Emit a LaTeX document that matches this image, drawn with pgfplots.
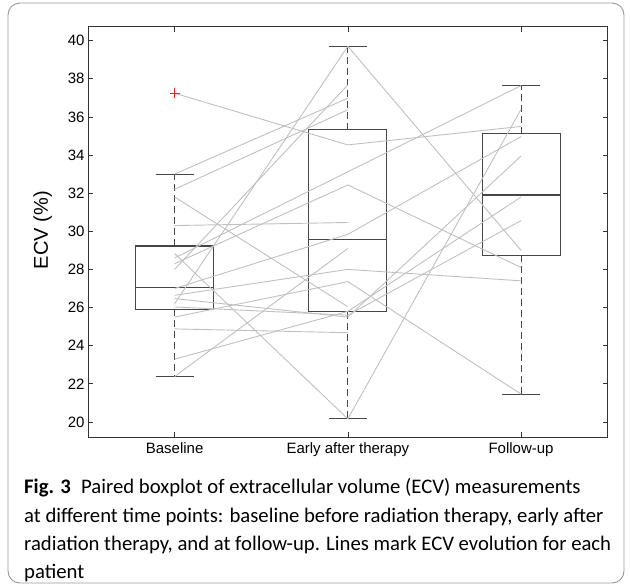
\documentclass[border=0pt]{standalone}
\usepackage{fontspec}
\setmainfont{Liberation Sans}
\newfontfamily\capfont{Carlito}
\usepackage{pgfplots}
\pgfplotsset{compat=1.18}
\definecolor{boxc}{RGB}{70,70,70}
\definecolor{linec}{RGB}{192,192,192}
\begin{document}
\begin{tikzpicture}[x=1pt,y=1pt]
\useasboundingbox (0,0) rectangle (630,584);
\draw[black!40, line width=0.9pt, rounded corners=12pt] (8,1) rectangle (624,581);
\begin{axis}[
  at={(88pt,147pt)}, anchor=south west,
  scale only axis, width=519.7pt, height=410.3pt,
  xmin=0.5, xmax=3.5, ymin=19.21, ymax=40.73,
  xtick={1,2,3}, xticklabels={Baseline, Early after therapy, Follow-up},
  ytick={20,22,...,40},
  tick align=inside, major tick length=5pt,
  tick style={black!80, line width=0.7pt},
  axis line style={black!80, line width=0.9pt},
  ticklabel style={font=\fontsize{15}{17}\selectfont},
  xticklabel style={yshift=-2pt},
  /pgf/number format/assume math mode=true,
  ylabel={ECV (\%)},
  ylabel style={font=\fontsize{20}{22}\selectfont, at={(axis description cs:-0.087,0.504)}, anchor=center},
  clip=false,
]
% ---- boxes (lower whisker, q1, median, q3, upper whisker)
% Baseline
\addplot[boxc, line width=1.1pt] coordinates {(0.775,25.91)(1.225,25.91)(1.225,29.23)(0.775,29.23)} -- cycle;
\addplot[boxc, line width=1.1pt] coordinates {(0.775,27.05)(1.225,27.05)};
\addplot[boxc, line width=1.1pt, dash pattern=on 7pt off 4pt] coordinates {(1,29.23)(1,33.0)};
\addplot[boxc, line width=1.1pt, dash pattern=on 7pt off 4pt] coordinates {(1,25.91)(1,22.36)};
\addplot[boxc, line width=1.1pt] coordinates {(0.89,33.0)(1.11,33.0)};
\addplot[boxc, line width=1.1pt] coordinates {(0.89,22.36)(1.11,22.36)};
% Early after therapy
\addplot[boxc, line width=1.1pt] coordinates {(1.775,25.77)(2.225,25.77)(2.225,35.33)(1.775,35.33)} -- cycle;
\addplot[boxc, line width=1.1pt] coordinates {(1.775,29.55)(2.225,29.55)};
\addplot[boxc, line width=1.1pt, dash pattern=on 7pt off 4pt] coordinates {(2,35.33)(2,39.70)};
\addplot[boxc, line width=1.1pt, dash pattern=on 7pt off 4pt] coordinates {(2,25.77)(2,20.16)};
\addplot[boxc, line width=1.1pt] coordinates {(1.89,39.70)(2.11,39.70)};
\addplot[boxc, line width=1.1pt] coordinates {(1.89,20.16)(2.11,20.16)};
% Follow-up
\addplot[boxc, line width=1.1pt] coordinates {(2.775,28.75)(3.225,28.75)(3.225,35.11)(2.775,35.11)} -- cycle;
\addplot[boxc, line width=1.1pt] coordinates {(2.775,31.90)(3.225,31.90)};
\addplot[boxc, line width=1.1pt, dash pattern=on 7pt off 4pt] coordinates {(3,35.11)(3,37.64)};
\addplot[boxc, line width=1.1pt, dash pattern=on 7pt off 4pt] coordinates {(3,28.75)(3,21.46)};
\addplot[boxc, line width=1.1pt] coordinates {(2.89,37.64)(3.11,37.64)};
\addplot[boxc, line width=1.1pt] coordinates {(2.89,21.46)(3.11,21.46)};
% ---- patient lines
\pgfplotsset{pl/.style={linec, line width=0.9pt}}
\addplot[pl] coordinates {(1,37.24)(2,34.53)(3,35.50)};
\addplot[pl] coordinates {(1,33.00)(2,36.98)};
\addplot[pl] coordinates {(1,32.20)(2,36.37)};
\addplot[pl] coordinates {(1,31.80)(2,26.04)};
\addplot[pl] coordinates {(1,30.30)(2,30.46)};
\addplot[pl] coordinates {(1,28.83)(2,20.16)(3,36.40)};
\addplot[pl] coordinates {(1,28.60)(3,37.64)};
\addplot[pl] coordinates {(1,28.30)(2,32.43)(3,28.10)};
\addplot[pl] coordinates {(1,28.00)(2,37.68)};
\addplot[pl] coordinates {(1,27.00)(2,29.84)(3,34.97)};
\addplot[pl] coordinates {(1,26.64)(2,28.00)(3,27.40)};
\addplot[pl] coordinates {(1,26.47)(2,25.50)(3,33.95)};
\addplot[pl] coordinates {(1,26.20)(2,39.70)(3,29.00)};
\addplot[pl] coordinates {(1,26.03)(2,25.60)(3,30.56)};
\addplot[pl] coordinates {(1,25.50)(2,27.36)(3,21.46)};
\addplot[pl] coordinates {(1,24.88)(2,24.68)};
\addplot[pl] coordinates {(1,23.29)(2,25.80)(3,31.80)};
\addplot[pl] coordinates {(1,22.38)(2,29.10)};
% ---- outlier
\addplot[only marks, mark=+, mark size=5pt, red!90, mark options={line width=0.8pt}] coordinates {(1,37.24)};
\end{axis}
\begin{scope}[every node/.style={anchor=base west, inner sep=0pt, font=\capfont\fontsize{20.7}{23}\selectfont}]
\node at (24,90) {\textbf{Fig. 3}\hspace{0.5em}Paired boxplot of extracellular volume (ECV) measurements};
\node at (24,61) {at different time points: baseline before radiation therapy, early after};
\node at (24,33) {radiation therapy, and at follow-up. Lines mark ECV evolution for each};
\node at (24,5) {patient};
\end{scope}
\end{tikzpicture}
\end{document}
